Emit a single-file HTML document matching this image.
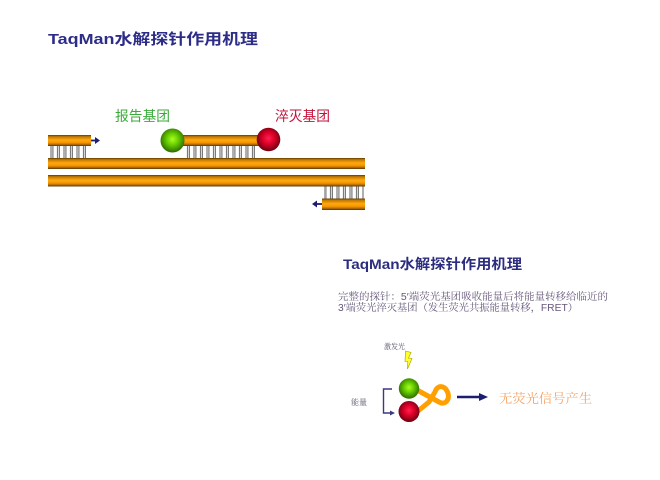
<!DOCTYPE html>
<html>
<head>
<meta charset="utf-8">
<style>
  html, body { margin: 0; padding: 0; background: #ffffff; }
  svg { display: block; }
</style>
</head>
<body>
<svg width="660" height="480" viewBox="0 0 660 480" xmlns="http://www.w3.org/2000/svg">
  <defs>
    <linearGradient id="strand" x1="0" y1="0" x2="0" y2="1">
      <stop offset="0" stop-color="#5e3a00"/>
      <stop offset="0.15" stop-color="#c07800"/>
      <stop offset="0.45" stop-color="#ffa810"/>
      <stop offset="0.7" stop-color="#f59500"/>
      <stop offset="0.88" stop-color="#a86400"/>
      <stop offset="1" stop-color="#553400"/>
    </linearGradient>
    <radialGradient id="green" cx="0.5" cy="0.45" r="0.55">
      <stop offset="0" stop-color="#a8ff20"/>
      <stop offset="0.45" stop-color="#66cc00"/>
      <stop offset="1" stop-color="#2d6a00"/>
    </radialGradient>
    <radialGradient id="red" cx="0.5" cy="0.45" r="0.55">
      <stop offset="0" stop-color="#ff2050"/>
      <stop offset="0.45" stop-color="#dd0028"/>
      <stop offset="1" stop-color="#6a0010"/>
    </radialGradient>
    <pattern id="rungs" x="0" y="0" width="6.5" height="20" patternUnits="userSpaceOnUse">
      <rect x="0" y="0" width="6.5" height="20" fill="#ffffff"/>
      <rect x="0.9" y="-1" width="4.6" height="22" fill="#ffffff" stroke="#7a7a7a" stroke-width="1.2"/>
    </pattern>
  </defs>

  <!-- Title 1 -->
  <text x="48" y="44" font-family="'Liberation Sans','Noto Sans CJK SC',sans-serif" font-weight="bold" font-size="15" fill="#2d2d88" textLength="210" lengthAdjust="spacingAndGlyphs">TaqMan水解探针作用机理</text>

  <!-- labels -->
  <text x="115" y="121" font-family="'Liberation Sans','Noto Sans CJK SC',sans-serif" font-size="14" fill="#3aaa3a" textLength="55" lengthAdjust="spacingAndGlyphs">报告基团</text>
  <text x="275" y="121" font-family="'Liberation Sans','Noto Sans CJK SC',sans-serif" font-size="14" fill="#c4123a" textLength="55" lengthAdjust="spacingAndGlyphs">淬灭基团</text>

  <!-- top primer -->
  <rect x="48" y="135" width="43" height="11" fill="url(#strand)"/>
  <rect x="50" y="146" width="39" height="12" fill="url(#rungs)"/>
  <line x1="91" y1="140.5" x2="96" y2="140.5" stroke="#1e1e6e" stroke-width="1.8"/>
  <polygon points="95,137 100,140.5 95,144" fill="#1e1e6e"/>

  <!-- probe strand -->
  <rect x="183" y="135" width="77" height="11" fill="url(#strand)"/>
  <rect x="186" y="146" width="71" height="12" fill="url(#rungs)"/>
  <circle cx="172.5" cy="140.5" r="12" fill="url(#green)"/>
  <circle cx="268.5" cy="139.5" r="11.8" fill="url(#red)"/>

  <!-- long strands -->
  <rect x="48" y="158" width="317" height="11" fill="url(#strand)"/>
  <rect x="48" y="175" width="317" height="11.5" fill="url(#strand)"/>

  <!-- bottom primer -->
  <rect x="324" y="186.5" width="40" height="12" fill="url(#rungs)"/>
  <rect x="322" y="198.5" width="43" height="11.5" fill="url(#strand)"/>
  <line x1="322" y1="204" x2="316" y2="204" stroke="#1e1e6e" stroke-width="1.8"/>
  <polygon points="317,200.5 312,204 317,207.5" fill="#1e1e6e"/>

  <!-- Title 2 -->
  <text x="343" y="269" font-family="'Liberation Sans','Noto Sans CJK SC',sans-serif" font-weight="bold" font-size="14" fill="#2d2d80" textLength="179" lengthAdjust="spacingAndGlyphs">TaqMan水解探针作用机理</text>

  <!-- description -->
  <text x="338" y="300" font-family="'Liberation Sans','Noto Serif CJK SC',serif" font-size="10" fill="#65577a" textLength="270" lengthAdjust="spacingAndGlyphs">完整的探针：5′端荧光基团吸收能量后将能量转移给临近的</text>
  <text x="338" y="311" font-family="'Liberation Sans','Noto Serif CJK SC',serif" font-size="10" fill="#65577a" textLength="240" lengthAdjust="spacingAndGlyphs">3′端荧光淬灭基团（发生荧光共振能量转移，FRET）</text>

  <!-- excitation -->
  <text x="384" y="349" font-family="'Liberation Sans','Noto Serif CJK SC',serif" font-size="7.5" fill="#55556a" textLength="21" lengthAdjust="spacingAndGlyphs">激发光</text>
  <polygon points="405.5,351 411,352.5 408.5,358 412,358.5 407.5,369 407.8,361.5 405,361.5" fill="#ffff30" stroke="#a89a00" stroke-width="0.6"/>

  <!-- energy bracket -->
  <text x="351" y="405" font-family="'Liberation Sans','Noto Serif CJK SC',serif" font-size="8" fill="#55556a" textLength="16" lengthAdjust="spacingAndGlyphs">能量</text>
  <polyline points="392,389 383.5,389 383.5,413 391,413" fill="none" stroke="#3a3a80" stroke-width="1.4"/>
  <polygon points="390,410.5 395,413 390,415.5" fill="#3a3a80"/>

  <!-- loop -->
  <path d="M 417 390 L 439 402 C 446 406 451 398 447 391 C 444 385 437 385 435 392 L 429 402 L 418 411" fill="none" stroke="#ffa000" stroke-width="5" stroke-linejoin="round" stroke-linecap="round"/>

  <!-- balls -->
  <circle cx="409" cy="388.5" r="10.2" fill="url(#green)"/>
  <circle cx="409" cy="411.5" r="10.5" fill="url(#red)"/>

  <!-- arrow -->
  <line x1="457" y1="397" x2="481" y2="397" stroke="#1e1e6e" stroke-width="2.4"/>
  <polygon points="479,393 488,397 479,401" fill="#1e1e6e"/>

  <text x="499" y="403" font-family="'Liberation Sans','Noto Serif CJK SC',serif" font-size="13" fill="#f4a46a" textLength="93" lengthAdjust="spacingAndGlyphs">无荧光信号产生</text>
</svg>
</body>
</html>
